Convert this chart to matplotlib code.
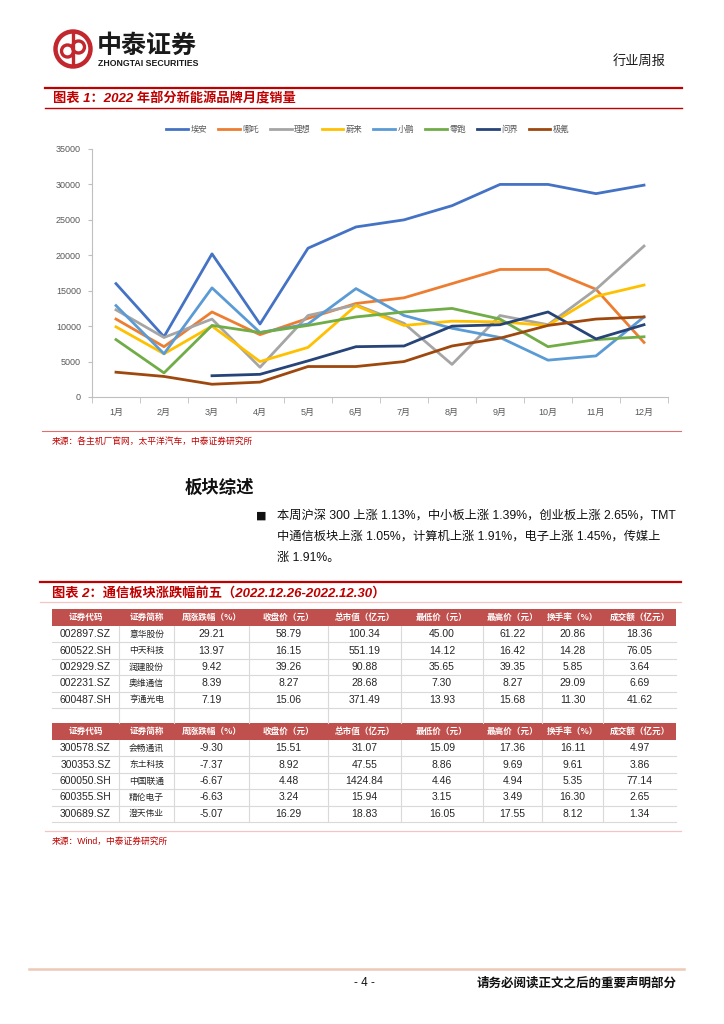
import numpy as np
import matplotlib
matplotlib.use('Agg')
import matplotlib.pyplot as plt
from matplotlib.patches import Rectangle, Circle

plt.rcParams['font.family'] = ['Liberation Sans', 'Noto Sans CJK SC']

W, H = 724, 1024
RED = '#C00000'

# 图表1 数据
months = [f'{i}月' for i in range(1, 13)]
brands = ['埃安', '哪吒', '理想', '蔚来', '小鹏', '零跑', '问界', '极氪']
colors = ['#4472C4', '#ED7D31', '#A5A5A5', '#FFC000', '#5B9BD5', '#70AD47', '#264478', '#9E480E']
aion = [16000, 8500, 20200, 10300, 21000, 24000, 25000, 27000, 30000, 30000, 28700, 29900]
neta = [11000, 7100, 12000, 8800, 11100, 13200, 14000, 16000, 18000, 18000, 15200, 7700]
lixiang = [12300, 8400, 11000, 4200, 11500, 13000, 10400, 4600, 11500, 10200, 15200, 21300]
nio = [9900, 6100, 10000, 5000, 7000, 12900, 10100, 10700, 10600, 10100, 14200, 15800]
xpeng = [12900, 6100, 15400, 9100, 10300, 15300, 11500, 9700, 8400, 5200, 5800, 11300]
leap = [8100, 3400, 10100, 9100, 10100, 11300, 12000, 12500, 11000, 7100, 8100, 8500]
aito = [np.nan, np.nan, 3000, 3200, 5100, 7100, 7200, 10000, 10200, 12000, 8200, 10200]
zeekr = [3500, 2900, 1800, 2100, 4300, 4300, 5000, 7200, 8300, 10100, 11000, 11300]
series = [aion, neta, lixiang, nio, xpeng, leap, aito, zeekr]

# 图表2 数据
headers = ['证券代码', '证券简称', '周涨跌幅（%）', '收盘价（元）', '总市值（亿元）',
           '最低价（元）', '最高价（元）', '换手率（%）', '成交额（亿元）']
codes_up = ['002897.SZ', '600522.SH', '002929.SZ', '002231.SZ', '600487.SH']
names_up = ['意华股份', '中天科技', '润建股份', '奥维通信', '亨通光电']
chg_up = [29.21, 13.97, 9.42, 8.39, 7.19]
close_up = [58.79, 16.15, 39.26, 8.27, 15.06]
mcap_up = [100.34, 551.19, 90.88, 28.68, 371.49]
low_up = [45.00, 14.12, 35.65, 7.30, 13.93]
high_up = [61.22, 16.42, 39.35, 8.27, 15.68]
turn_up = [20.86, 14.28, 5.85, 29.09, 11.30]
amt_up = [18.36, 76.05, 3.64, 6.69, 41.62]

codes_dn = ['300578.SZ', '300353.SZ', '600050.SH', '600355.SH', '300689.SZ']
names_dn = ['会畅通讯', '东土科技', '中国联通', '精伦电子', '澄天伟业']
chg_dn = [-9.30, -7.37, -6.67, -6.63, -5.07]
close_dn = [15.51, 8.92, 4.48, 3.24, 16.29]
mcap_dn = [31.07, 47.55, 1424.84, 15.94, 18.83]
low_dn = [15.09, 8.86, 4.46, 3.15, 16.05]
high_dn = [17.36, 9.69, 4.94, 3.49, 17.55]
turn_dn = [16.11, 9.61, 5.35, 16.30, 8.12]
amt_dn = [4.97, 3.86, 77.14, 2.65, 1.34]

fig = plt.figure(figsize=(7.24, 10.24), dpi=100)
page = fig.add_axes([0, 0, 1, 1])
page.set_xlim(0, W)
page.set_ylim(H, 0)
page.axis('off')

# 页眉 logo
logo_red = '#C1272D'
page.add_patch(Circle((73, 49), 17.5, fill=False, lw=3.2, ec=logo_red))
page.add_patch(Circle((67.5, 51), 6, fill=False, lw=2.4, ec=logo_red))
page.add_patch(Circle((78.5, 47), 6, fill=False, lw=2.4, ec=logo_red))
page.plot([73, 73], [34, 64], color=logo_red, lw=2.4)
page.text(97, 46, '中泰证券', fontsize=18, fontweight='bold', color='#1a1a1a',
          family='Noto Sans CJK SC', va='center')
page.text(98, 64, 'ZHONGTAI SECURITIES', fontsize=6.3, fontweight='bold', color='#1a1a1a',
          va='center')
page.text(666, 61, '行业周报', fontsize=9.5, ha='right', va='center', color='#1a1a1a')

# 图表1 标题
page.plot([45, 682], [88, 88], color=RED, lw=1.6)
page.text(53, 99, '图表 1：2022 年部分新能源品牌月度销量', fontsize=9.5, color=RED,
          fontweight='bold', style='italic', va='center')
page.plot([45, 682], [108, 108], color=RED, lw=1.0)

# 折线图
ax = fig.add_axes([92 / W, 1 - 397 / H, 576 / W, 248 / H])
x = np.arange(len(months))
for name, vals, c in zip(brands, series, colors):
    ax.plot(x, vals, color=c, lw=2.0, label=name)
ax.set_xlim(-0.5, 11.5)
ax.set_ylim(0, 35000)
ax.set_yticks(np.arange(0, 35001, 5000))
ax.set_yticklabels([str(v) for v in range(0, 35001, 5000)])
ax.set_xticks(x)
ax.set_xticklabels(months)
ax.set_xticks(np.arange(-0.5, 12, 1), minor=True)
ax.tick_params(axis='x', which='major', length=0, labelsize=6.5, labelcolor='#595959', pad=8)
ax.tick_params(axis='x', which='minor', length=4, color='#BFBFBF')
ax.tick_params(axis='y', length=3, color='#BFBFBF', labelsize=6.5, labelcolor='#595959', pad=5)
for s in ['top', 'right']:
    ax.spines[s].set_visible(False)
ax.spines['left'].set_color('#BFBFBF')
ax.spines['bottom'].set_color('#BFBFBF')
ax.patch.set_alpha(0)
leg = ax.legend(loc='center', bbox_to_anchor=(368 / W, 1 - 130 / H), bbox_transform=fig.transFigure,
                ncol=8, frameon=False, fontsize=6, handlelength=2.6, handletextpad=0.3,
                columnspacing=1.3)
for t in leg.get_texts():
    t.set_color('#595959')

page.plot([42, 681], [431, 431], color='#E07070', lw=0.8)
page.text(52, 441, '来源：各主机厂官网，太平洋汽车，中泰证券研究所', fontsize=6.3, color=RED, va='center')

# 板块综述
page.text(185, 488, '板块综述', fontsize=12.5, fontweight='bold', va='center', color='#111111',
          family='Noto Sans CJK SC')
page.text(256, 516, '■', fontsize=8, va='center', color='#111111', family='DejaVu Sans')
para = ['本周沪深 300 上涨 1.13%，中小板上涨 1.39%，创业板上涨 2.65%，TMT',
        '中通信板块上涨 1.05%，计算机上涨 1.91%，电子上涨 1.45%，传媒上',
        '涨 1.91%。']
for i, line in enumerate(para):
    page.text(277, 516 + i * 21, line, fontsize=8.8, va='center', color='#111111')

# 图表2 标题
page.plot([40, 681], [582, 582], color=RED, lw=1.6)
page.text(52, 593, '图表 2：通信板块涨跌幅前五（2022.12.26-2022.12.30）', fontsize=9.5, color=RED,
          fontweight='bold', style='italic', va='center')
page.plot([40, 681], [602, 602], color='#F2C4C4', lw=0.9)

# 表格
bounds = [52, 119, 174, 249, 328, 401, 483, 542, 603, 676]
centers = [(a + b) / 2 for a, b in zip(bounds[:-1], bounds[1:])]
HDR = '#C0504D'
GRID = '#D9D9D9'
row_h = 16.4
hdr_h = 17


def draw_block(top, cols):
    page.add_patch(Rectangle((bounds[0], top), bounds[-1] - bounds[0], hdr_h, color=HDR, lw=0))
    for cx, h in zip(centers, headers):
        page.text(cx, top + hdr_h / 2, h, fontsize=6.2, color='white', fontweight='bold',
                  ha='center', va='center', family='Noto Sans CJK SC')
    y0 = top + hdr_h
    n = len(cols[0])
    for r in range(n):
        yc = y0 + row_h * (r + 0.5)
        for ci, col in enumerate(cols):
            v = col[r]
            if ci == 1:
                page.text(centers[ci], yc, v, fontsize=6.3, ha='center', va='center', color='#262626')
            elif ci == 0:
                page.text(centers[ci], yc, v, fontsize=7.5, ha='center', va='center', color='#262626')
            else:
                page.text(centers[ci], yc, f'{v:.2f}', fontsize=7.5, ha='center', va='center',
                          color='#262626')
        page.plot([bounds[0], bounds[-1]], [y0 + row_h * (r + 1)] * 2, color=GRID, lw=0.8)
    for b in bounds[1:-1]:
        page.plot([b, b], [y0, y0 + row_h * n], color=GRID, lw=0.8)
    return y0 + row_h * n


end1 = draw_block(609, [codes_up, names_up, chg_up, close_up, mcap_up, low_up, high_up, turn_up, amt_up])
top2 = 723
for b in bounds[1:-1]:
    page.plot([b, b], [end1, top2], color=GRID, lw=0.8)
draw_block(top2, [codes_dn, names_dn, chg_dn, close_dn, mcap_dn, low_dn, high_dn, turn_dn, amt_dn])

page.plot([45, 681], [831, 831], color='#F2C4C4', lw=0.9)
page.text(52, 841, '来源：Wind，中泰证券研究所', fontsize=6.3, color=RED, va='center')

# 页脚
page.plot([29, 684], [969, 969], color='#EDC9B6', lw=1.8)
page.text(364, 983, '- 4 -', fontsize=8.5, ha='center', va='center', color='#111111')
page.text(677, 983, '请务必阅读正文之后的重要声明部分', fontsize=9, fontweight='bold', ha='right',
          va='center', color='#111111', family='Noto Sans CJK SC')

fig.savefig('out.png', dpi=100)
